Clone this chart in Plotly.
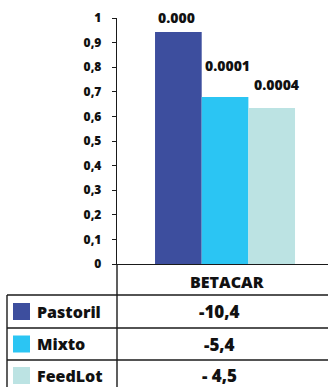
import plotly.graph_objects as go

# Chart data
category = "BETACAR"
groups = ["Pastoril", "Mixto", "FeedLot"]
bar_values = [0.943, 0.679, 0.634]
p_labels = ["0.000", "0.0001", "0.0004"]
table_values = ["-10,4", "-5,4", "- 4,5"]
tick_vals = [0, 0.1, 0.2, 0.3, 0.4, 0.5, 0.6, 0.7, 0.8, 0.9, 1]
tick_text = ["0", "0,1", "0,2", "0,3", "0,4", "0,5", "0,6", "0,7", "0,8", "0,9", "1"]

# Styling
colors = ["#3d4e9e", "#2bc5f3", "#bce3e3"]
label_shift_y = [15, 31, 24]
label_shift_x = [-49, 2, 51]
FONT = "Open Sans"
WEIGHT = 800
INK = "#111111"

W, H = 328, 387
L, R, T, B = 117, 0, 18, 123


def px(x):
    return (x - L) / (W - L - R)


def py(y):
    return (H - B - y) / (H - T - B)


fig = go.Figure()
for name, val, col in zip(groups, bar_values, colors):
    fig.add_trace(go.Bar(x=[category], y=[val], name=name,
                         marker=dict(color=col, line=dict(width=0))))

annotations = []
for val, lab, dy, dx in zip(bar_values, p_labels, label_shift_y, label_shift_x):
    annotations.append(dict(x=category, y=val, text=lab, showarrow=False,
                            xref="x", yref="y", yanchor="middle",
                            yshift=dy, xshift=dx,
                            font=dict(family=FONT, size=14, color=INK, weight=WEIGHT)))

# Table beneath the axis
line = dict(color="#1a1a1a", width=1.4)
shapes = [
    dict(type="line", xref="paper", yref="paper", x0=0, x1=0, y0=0, y1=py(H + 2), line=line),
    dict(type="line", xref="paper", yref="paper", x0=px(7), x1=px(7), y0=py(295), y1=py(H + 2), line=line),
]
for yy in (295, 328, 360):
    shapes.append(dict(type="line", xref="paper", yref="paper",
                       x0=px(7), x1=1, y0=py(yy), y1=py(yy), line=line))

annotations.append(dict(x=px(227), y=py(282), xref="paper", yref="paper", text=category,
                        showarrow=False, xanchor="center", yanchor="middle",
                        font=dict(family=FONT, size=16, color=INK, weight=WEIGHT)))

row_centers = [311.5, 344, 375.5]
for name, col, val, yc in zip(groups, colors, table_values, row_centers):
    shapes.append(dict(type="rect", xref="paper", yref="paper",
                       x0=px(13), x1=px(30), y0=py(yc - 8.5), y1=py(yc + 8.5),
                       fillcolor=col, line=dict(width=0)))
    annotations.append(dict(x=px(35), y=py(yc), xref="paper", yref="paper", text=name,
                            showarrow=False, xanchor="left", yanchor="middle",
                            font=dict(family=FONT, size=16, color=INK, weight=WEIGHT)))
    annotations.append(dict(x=px(219), y=py(yc), xref="paper", yref="paper", text=val,
                            showarrow=False, xanchor="center", yanchor="middle",
                            font=dict(family=FONT, size=17, color=INK, weight=WEIGHT)))

fig.update_layout(
    width=W, height=H,
    margin=dict(l=L, r=R, t=T, b=B, pad=0),
    paper_bgcolor="white", plot_bgcolor="white",
    barmode="group", bargap=0.3365, bargroupgap=0,
    showlegend=False,
    xaxis=dict(range=[-0.512, 0.488], showticklabels=False, ticks="",
               showgrid=False, zeroline=False, showline=True,
               linecolor="#1a1a1a", linewidth=1.4),
    yaxis=dict(range=[0, 1], tickvals=tick_vals, ticktext=tick_text,
               ticks="outside", ticklen=4, tickwidth=1.2, tickcolor="#1a1a1a",
               ticklabelstandoff=8,
               tickfont=dict(family=FONT, size=12, color=INK, weight=WEIGHT),
               showgrid=False, zeroline=False, showline=True,
               linecolor="#1a1a1a", linewidth=1.4),
    shapes=shapes,
    annotations=annotations,
)

fig.write_html("out.html")
